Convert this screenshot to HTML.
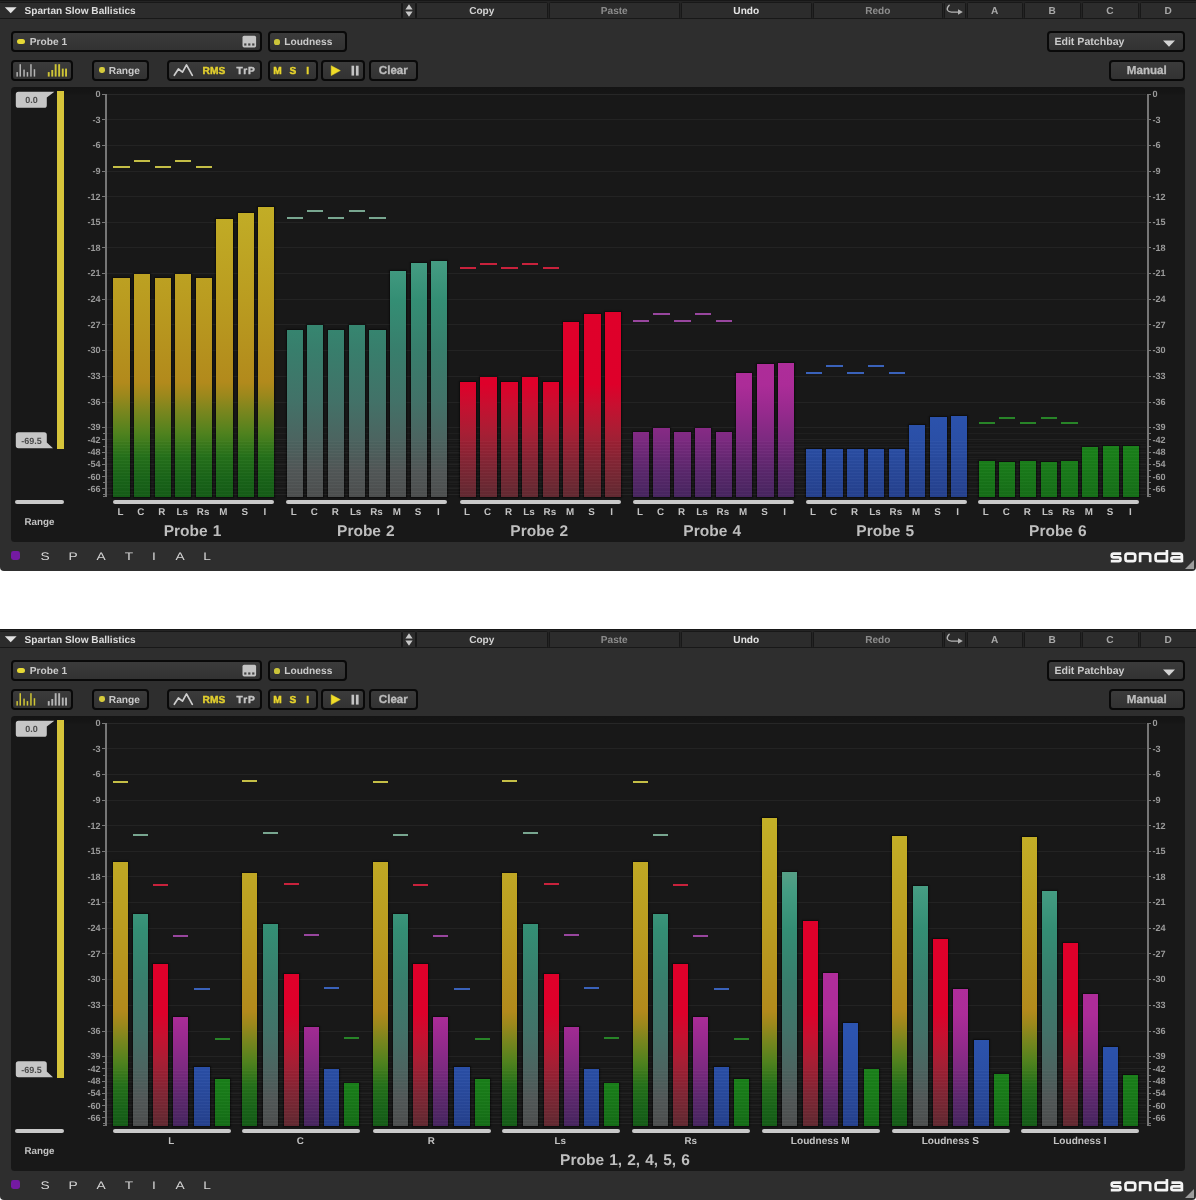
<!DOCTYPE html><html><head><meta charset="utf-8"><title>Sonda</title><style>
html,body{margin:0;padding:0;background:#fff}
body{text-rendering:geometricPrecision;width:1196px;height:1200px;position:relative;overflow:hidden;font-family:"Liberation Sans", sans-serif}
.plug{will-change:transform;position:absolute;left:0;width:1196px;height:571px;background:#2e2e2e;border-radius:0 0 4px 4px;overflow:hidden}
.plug *{position:absolute;box-sizing:border-box}
.tb{left:0;top:0;width:1196px;height:19.2px;background:#242424;border-top:1px solid #171717;border-bottom:1.2px solid #1a1a1a}
.sg{top:1.7px;height:16.9px;background:#2c2c2c;border:1.1px solid #181818;border-radius:1.5px}
.t{height:20px;line-height:20px;white-space:nowrap;font-weight:bold}
.tbt{}
.bx{background:linear-gradient(#3b3b3b,#323232);border:2.8px solid #090909;border-radius:4px}
.led{background:#e6d936}
.ct{color:#cacaca}
.ct2{-webkit-text-stroke:0.4px currentColor}
.pan{left:11px;top:86.8px;width:1173.6px;height:455px;background:linear-gradient(#141414,#161616 7px,#181818 8px);border-radius:3.5px}
.rng{left:57.4px;top:91.4px;width:6.2px;height:357.6px;background:#d6c43a}
.tg{color:#4a4a4a}
.ul{top:499.9px;height:3.7px;border-radius:2px;background:#c9c9c9}
.lb{color:#c2c2c2}
.pn{color:#bebebe;word-spacing:0.8px}
.gl{left:107px;width:1039px;height:1px;background:#232323}
.gl.m{background:#1f1f1f}
.ax{top:93.6px;width:2px;height:403.8px;background:#767676}
.tk{width:3px;height:1px;background:#787878}
.tk.s{width:2.2px}
.axl{color:#9a9a9a}
.b{box-shadow:0 0 1.2px 1px rgba(0,0,0,.5)}
.pk{height:2px}
.str{left:107px;top:441px;width:1039px;height:56px;background:repeating-linear-gradient(to bottom,rgba(255,255,255,0.022) 0,rgba(255,255,255,0.022) 1px,rgba(0,0,0,0.02) 1px,rgba(0,0,0,0.02) 3.1px)}
.sq{left:10.5px;top:551.3px;width:9px;height:9px;background:#741aa2;border-radius:2.4px}
.sp{font-weight:normal;color:#d6d6d6;transform:scaleX(1.25)}
.sn{font-weight:normal;color:#ececec;transform:scaleX(1.5);letter-spacing:0.5px}
.a{overflow:visible}
.w1,.w2{left:0;top:0;width:1196px;height:571px}

</style></head><body>
<div class="plug" style="top:0px">
<div class="w1">
<div class="tb"></div>
<div class="sg" style="left:-1.00px;width:402.50px"></div>
<div class="sg" style="left:402.00px;width:13.50px"></div>
<div class="sg" style="left:415.50px;width:132.50px"></div>
<div class="t tbt" style="left:381.75px;width:200px;text-align:center;top:2px;font-size:10.1px;color:#d2d2d2">Copy</div>
<div class="sg" style="left:549.00px;width:130.50px"></div>
<div class="t tbt" style="left:514.25px;width:200px;text-align:center;top:2px;font-size:10.1px;color:#8c8c8c">Paste</div>
<div class="sg" style="left:681.00px;width:130.50px"></div>
<div class="t tbt" style="left:646.25px;width:200px;text-align:center;top:2px;font-size:10.1px;color:#e4e4e4">Undo</div>
<div class="sg" style="left:812.50px;width:130.50px"></div>
<div class="t tbt" style="left:777.75px;width:200px;text-align:center;top:2px;font-size:10.1px;color:#8c8c8c">Redo</div>
<div class="sg" style="left:943.50px;width:22.00px"></div>
<div class="sg" style="left:966.50px;width:56.50px"></div>
<div class="t tbt" style="left:894.75px;width:200px;text-align:center;top:2px;font-size:10.1px;color:#a8a8a8">A</div>
<div class="sg" style="left:1024.00px;width:56.50px"></div>
<div class="t tbt" style="left:952.25px;width:200px;text-align:center;top:2px;font-size:10.1px;color:#a8a8a8">B</div>
<div class="sg" style="left:1081.50px;width:57.00px"></div>
<div class="t tbt" style="left:1010.00px;width:200px;text-align:center;top:2px;font-size:10.1px;color:#a8a8a8">C</div>
<div class="sg" style="left:1139.50px;width:57.50px"></div>
<div class="t tbt" style="left:1068.25px;width:200px;text-align:center;top:2px;font-size:10.1px;color:#a8a8a8">D</div>
<div class="t tbt" style="left:24.60px;text-align:left;top:2px;font-size:10.1px;color:#dcdcdc">Spartan Slow Ballistics</div>
<svg class="a" style="left:4px;top:6px" width="14" height="8" viewBox="0 0 14 8"><path d="M0.8 1.2 L12.6 1.2 L6.7 7.2 Z" fill="#e2e2e2"/></svg>
<svg class="a" style="left:404px;top:3px" width="10" height="15" viewBox="0 0 10 15"><path d="M5 1.2 L8.6 6.4 L1.4 6.4 Z M5 13.8 L8.6 8.6 L1.4 8.6 Z" fill="#c8c8c8"/></svg>
<svg class="a" style="left:0;top:0" width="1196" height="20" viewBox="0 0 1196 20"><path d="M949.2 5.2 Q946.4 8 947.5 10.3 Q948.5 12.1 951.4 12.1 H959.6" fill="none" stroke="#b2b2b2" stroke-width="1.3" stroke-linecap="round"/><path d="M958 9.2 L962.8 12.1 L958 14.8 Z" fill="#b2b2b2"/></svg>
<div class="bx " style="left:10.65px;top:30.65px;width:250.90px;height:21.70px"></div>
<div class="led" style="left:17px;top:38.9px;width:7.6px;height:5px;border-radius:2.5px"></div>
<div class="t ct" style="left:29.80px;text-align:left;top:33px;font-size:10.2px;">Probe 1</div>
<svg class="a" style="left:242px;top:35px" width="15" height="14" viewBox="0 0 15 14"><rect x="0.5" y="0.8" width="13.6" height="11.6" rx="1.6" fill="#c4c4c4"/><rect x="2.2" y="8.4" width="2.2" height="2.2" fill="#444"/><rect x="6.2" y="8.4" width="2.2" height="2.2" fill="#444"/><rect x="10.2" y="8.4" width="2.2" height="2.2" fill="#444"/></svg>
<div class="bx " style="left:267.65px;top:30.65px;width:78.90px;height:21.70px"></div>
<div class="led" style="left:273.8px;top:38.6px;width:6.4px;height:6.2px;border-radius:2.6px;background:#cbc43a"></div>
<div class="t ct" style="left:284.20px;text-align:left;top:33px;font-size:10.2px;">Loudness</div>
<div class="bx " style="left:1046.65px;top:30.65px;width:137.90px;height:21.70px"></div>
<div class="t ct" style="left:1054.40px;text-align:left;top:32px;font-size:10.6px;">Edit Patchbay</div>
<svg class="a" style="left:1162.4px;top:38.6px" width="14" height="9" viewBox="0 0 14 9"><path d="M1 1.4 L13 1.4 L7 7.8 Z" fill="#d4d4d4"/></svg>
<div class="bx " style="left:11.15px;top:59.65px;width:62.20px;height:21.30px"></div>
<svg class="a" style="left:15.3px;top:62px" width="56" height="16" viewBox="0 0 56 16"><rect x="1.4" y="10.1" width="1.5" height="4.5" fill="#b4b4b4"/><rect x="4.5" y="2.2" width="1.5" height="12.4" fill="#b4b4b4"/><rect x="8.3" y="7.6" width="1.5" height="7.0" fill="#b4b4b4"/><rect x="11.7" y="10.1" width="1.5" height="4.5" fill="#b4b4b4"/><rect x="15.2" y="2.2" width="1.5" height="12.4" fill="#b4b4b4"/><rect x="18.7" y="7.2" width="1.5" height="7.4" fill="#b4b4b4"/><rect x="32.8" y="10.1" width="1.9" height="4.5" fill="#cfc536"/><rect x="36.3" y="8.0" width="1.9" height="6.6" fill="#cfc536"/><rect x="39.7" y="2.2" width="1.9" height="12.4" fill="#cfc536"/><rect x="43.2" y="2.2" width="1.9" height="12.4" fill="#cfc536"/><rect x="46.8" y="6.6" width="1.9" height="8.0" fill="#cfc536"/><rect x="50.1" y="6.6" width="1.9" height="8.0" fill="#cfc536"/></svg>
<div class="bx " style="left:92.15px;top:59.65px;width:56.80px;height:21.30px"></div>
<div class="led" style="left:98.5px;top:67.2px;width:6.6px;height:6.2px;border-radius:2.4px;background:#d6cb3c"></div>
<div class="t ct" style="left:108.80px;text-align:left;top:62px;font-size:10.2px;">Range</div>
<div class="bx " style="left:167.15px;top:59.65px;width:94.40px;height:21.30px"></div>
<svg class="a" style="left:0;top:0" width="300" height="90" viewBox="0 0 300 90"><path d="M174.3 75.3 L178.4 69 L182.5 72.2 L186.5 64.9 L192.3 75.3" fill="none" stroke="#cecece" stroke-width="1.7" stroke-linejoin="round" stroke-linecap="round"/></svg>
<div class="t ct2" style="left:202.60px;text-align:left;top:62px;font-size:10.2px;color:#e2cf2e">RMS</div>
<div class="t ct2" style="left:236.60px;text-align:left;top:62px;font-size:10.2px;color:#c4c4c4;letter-spacing:0.9px">TrP</div>
<div class="bx " style="left:267.65px;top:59.65px;width:49.90px;height:21.30px"></div>
<div class="t ct2" style="left:177.40px;width:200px;text-align:center;top:62px;font-size:10.2px;color:#e8d52c">M</div>
<div class="t ct2" style="left:192.80px;width:200px;text-align:center;top:62px;font-size:10.2px;color:#e8d52c">S</div>
<div class="t ct2" style="left:207.60px;width:200px;text-align:center;top:62px;font-size:10.2px;color:#e8d52c">I</div>
<div class="bx " style="left:321.25px;top:59.65px;width:43.90px;height:21.30px"></div>
<svg class="a" style="left:329px;top:64px" width="32" height="13" viewBox="0 0 32 13"><path d="M2.2 1.7 L11.3 6.6 L2.2 11.6 Z" fill="#f0dc28" stroke="#f0dc28" stroke-width="0.5" stroke-linejoin="round"/><rect x="22.5" y="1.7" width="2.6" height="9.9" fill="#c4c4c4"/><rect x="26.9" y="1.7" width="2.7" height="9.9" fill="#c4c4c4"/></svg>
<div class="bx " style="left:368.65px;top:59.65px;width:49.30px;height:21.30px"></div>
<div class="t ct" style="left:293.30px;width:200px;text-align:center;top:61px;font-size:11.6px;color:#bdbdbd;-webkit-text-stroke:0.3px #bdbdbd">Clear</div>
<div class="bx " style="left:1109.15px;top:59.65px;width:75.40px;height:21.30px"></div>
<div class="t ct" style="left:1046.80px;width:200px;text-align:center;top:61px;font-size:11.6px;color:#bdbdbd;-webkit-text-stroke:0.3px #bdbdbd">Manual</div>
<div class="pan"></div>
<div class="rng"></div>
<svg class="a" style="left:15px;top:91px" width="40" height="18" viewBox="0 0 40 18"><path d="M3.4 0.8 L39.4 0.8 L31.8 6.4 L31.8 14.2 Q31.8 16.8 29.2 16.8 L3.4 16.8 Q0.8 16.8 0.8 14.2 L0.8 3.4 Q0.8 0.8 3.4 0.8 Z" fill="#c6c6c6"/></svg>
<div class="t tg" style="left:-68.60px;width:200px;text-align:center;top:90px;font-size:9px;">0.0</div>
<svg class="a" style="left:15px;top:431px" width="40" height="18" viewBox="0 0 40 18"><path d="M3.4 17.2 L38 17.2 L31.8 11.6 L31.8 3.8 Q31.8 1.2 29.2 1.2 L3.4 1.2 Q0.8 1.2 0.8 3.8 L0.8 14.6 Q0.8 17.2 3.4 17.2 Z" fill="#c6c6c6"/></svg>
<div class="t tg" style="left:-68.60px;width:200px;text-align:center;top:431px;font-size:9px;">-69.5</div>
<div class="ul" style="left:15.4px;width:48.6px"></div>
<div class="t lb" style="left:-60.60px;width:200px;text-align:center;top:513px;font-size:9.8px;">Range</div>
<div class="gl" style="top:93.80px;background:#272727"></div>
<div class="gl" style="top:119.40px"></div>
<div class="gl" style="top:145.00px"></div>
<div class="gl" style="top:170.60px"></div>
<div class="gl" style="top:196.20px"></div>
<div class="gl" style="top:221.80px"></div>
<div class="gl" style="top:247.40px"></div>
<div class="gl" style="top:273.00px"></div>
<div class="gl" style="top:298.60px"></div>
<div class="gl" style="top:324.20px"></div>
<div class="gl" style="top:349.80px"></div>
<div class="gl" style="top:375.70px"></div>
<div class="gl" style="top:401.50px"></div>
<div class="gl" style="top:426.80px"></div>
<div class="gl" style="top:439.40px"></div>
<div class="gl" style="top:451.80px"></div>
<div class="gl" style="top:463.90px"></div>
<div class="gl" style="top:476.10px"></div>
<div class="gl" style="top:488.30px"></div>
<div class="gl m" style="top:433.10px"></div>
<div class="gl m" style="top:445.60px"></div>
<div class="gl m" style="top:457.90px"></div>
<div class="gl m" style="top:470.00px"></div>
<div class="gl m" style="top:482.20px"></div>
<div class="gl m" style="top:493.50px"></div>
<div class="ax" style="left:104.6px"></div><div class="ax" style="left:1146.5px"></div>
<div class="tk" style="left:101.8px;top:93.80px"></div><div class="tk" style="left:1148.4px;top:93.80px"></div>
<div class="t axl" style="left:70.60px;width:30px;text-align:right;top:84px;font-size:9.1px;">0</div>
<div class="t axl" style="left:1152.50px;text-align:left;top:84px;font-size:9.1px;">0</div>
<div class="tk" style="left:101.8px;top:119.40px"></div><div class="tk" style="left:1148.4px;top:119.40px"></div>
<div class="t axl" style="left:70.60px;width:30px;text-align:right;top:110px;font-size:9.1px;">-3</div>
<div class="t axl" style="left:1152.50px;text-align:left;top:110px;font-size:9.1px;">-3</div>
<div class="tk" style="left:101.8px;top:145.00px"></div><div class="tk" style="left:1148.4px;top:145.00px"></div>
<div class="t axl" style="left:70.60px;width:30px;text-align:right;top:135px;font-size:9.1px;">-6</div>
<div class="t axl" style="left:1152.50px;text-align:left;top:135px;font-size:9.1px;">-6</div>
<div class="tk" style="left:101.8px;top:170.60px"></div><div class="tk" style="left:1148.4px;top:170.60px"></div>
<div class="t axl" style="left:70.60px;width:30px;text-align:right;top:161px;font-size:9.1px;">-9</div>
<div class="t axl" style="left:1152.50px;text-align:left;top:161px;font-size:9.1px;">-9</div>
<div class="tk" style="left:101.8px;top:196.20px"></div><div class="tk" style="left:1148.4px;top:196.20px"></div>
<div class="t axl" style="left:70.60px;width:30px;text-align:right;top:187px;font-size:9.1px;">-12</div>
<div class="t axl" style="left:1152.50px;text-align:left;top:187px;font-size:9.1px;">-12</div>
<div class="tk" style="left:101.8px;top:221.80px"></div><div class="tk" style="left:1148.4px;top:221.80px"></div>
<div class="t axl" style="left:70.60px;width:30px;text-align:right;top:212px;font-size:9.1px;">-15</div>
<div class="t axl" style="left:1152.50px;text-align:left;top:212px;font-size:9.1px;">-15</div>
<div class="tk" style="left:101.8px;top:247.40px"></div><div class="tk" style="left:1148.4px;top:247.40px"></div>
<div class="t axl" style="left:70.60px;width:30px;text-align:right;top:238px;font-size:9.1px;">-18</div>
<div class="t axl" style="left:1152.50px;text-align:left;top:238px;font-size:9.1px;">-18</div>
<div class="tk" style="left:101.8px;top:273.00px"></div><div class="tk" style="left:1148.4px;top:273.00px"></div>
<div class="t axl" style="left:70.60px;width:30px;text-align:right;top:263px;font-size:9.1px;">-21</div>
<div class="t axl" style="left:1152.50px;text-align:left;top:263px;font-size:9.1px;">-21</div>
<div class="tk" style="left:101.8px;top:298.60px"></div><div class="tk" style="left:1148.4px;top:298.60px"></div>
<div class="t axl" style="left:70.60px;width:30px;text-align:right;top:289px;font-size:9.1px;">-24</div>
<div class="t axl" style="left:1152.50px;text-align:left;top:289px;font-size:9.1px;">-24</div>
<div class="tk" style="left:101.8px;top:324.20px"></div><div class="tk" style="left:1148.4px;top:324.20px"></div>
<div class="t axl" style="left:70.60px;width:30px;text-align:right;top:315px;font-size:9.1px;">-27</div>
<div class="t axl" style="left:1152.50px;text-align:left;top:315px;font-size:9.1px;">-27</div>
<div class="tk" style="left:101.8px;top:349.80px"></div><div class="tk" style="left:1148.4px;top:349.80px"></div>
<div class="t axl" style="left:70.60px;width:30px;text-align:right;top:340px;font-size:9.1px;">-30</div>
<div class="t axl" style="left:1152.50px;text-align:left;top:340px;font-size:9.1px;">-30</div>
<div class="tk" style="left:101.8px;top:375.70px"></div><div class="tk" style="left:1148.4px;top:375.70px"></div>
<div class="t axl" style="left:70.60px;width:30px;text-align:right;top:366px;font-size:9.1px;">-33</div>
<div class="t axl" style="left:1152.50px;text-align:left;top:366px;font-size:9.1px;">-33</div>
<div class="tk" style="left:101.8px;top:401.50px"></div><div class="tk" style="left:1148.4px;top:401.50px"></div>
<div class="t axl" style="left:70.60px;width:30px;text-align:right;top:392px;font-size:9.1px;">-36</div>
<div class="t axl" style="left:1152.50px;text-align:left;top:392px;font-size:9.1px;">-36</div>
<div class="tk" style="left:101.8px;top:426.80px"></div><div class="tk" style="left:1148.4px;top:426.80px"></div>
<div class="t axl" style="left:70.60px;width:30px;text-align:right;top:417px;font-size:9.1px;">-39</div>
<div class="t axl" style="left:1152.50px;text-align:left;top:417px;font-size:9.1px;">-39</div>
<div class="tk" style="left:101.8px;top:439.40px"></div><div class="tk" style="left:1148.4px;top:439.40px"></div>
<div class="t axl" style="left:70.60px;width:30px;text-align:right;top:430px;font-size:9.1px;">-42</div>
<div class="t axl" style="left:1152.50px;text-align:left;top:430px;font-size:9.1px;">-42</div>
<div class="tk" style="left:101.8px;top:451.80px"></div><div class="tk" style="left:1148.4px;top:451.80px"></div>
<div class="t axl" style="left:70.60px;width:30px;text-align:right;top:442px;font-size:9.1px;">-48</div>
<div class="t axl" style="left:1152.50px;text-align:left;top:442px;font-size:9.1px;">-48</div>
<div class="tk" style="left:101.8px;top:463.90px"></div><div class="tk" style="left:1148.4px;top:463.90px"></div>
<div class="t axl" style="left:70.60px;width:30px;text-align:right;top:454px;font-size:9.1px;">-54</div>
<div class="t axl" style="left:1152.50px;text-align:left;top:454px;font-size:9.1px;">-54</div>
<div class="tk" style="left:101.8px;top:476.10px"></div><div class="tk" style="left:1148.4px;top:476.10px"></div>
<div class="t axl" style="left:70.60px;width:30px;text-align:right;top:467px;font-size:9.1px;">-60</div>
<div class="t axl" style="left:1152.50px;text-align:left;top:467px;font-size:9.1px;">-60</div>
<div class="tk" style="left:101.8px;top:488.30px"></div><div class="tk" style="left:1148.4px;top:488.30px"></div>
<div class="t axl" style="left:70.60px;width:30px;text-align:right;top:479px;font-size:9.1px;">-66</div>
<div class="t axl" style="left:1152.50px;text-align:left;top:479px;font-size:9.1px;">-66</div>
<div class="tk s" style="left:102.6px;top:433.10px"></div><div class="tk s" style="left:1148.4px;top:433.10px"></div>
<div class="tk s" style="left:102.6px;top:445.60px"></div><div class="tk s" style="left:1148.4px;top:445.60px"></div>
<div class="tk s" style="left:102.6px;top:457.90px"></div><div class="tk s" style="left:1148.4px;top:457.90px"></div>
<div class="tk s" style="left:102.6px;top:470.00px"></div><div class="tk s" style="left:1148.4px;top:470.00px"></div>
<div class="tk s" style="left:102.6px;top:482.20px"></div><div class="tk s" style="left:1148.4px;top:482.20px"></div>
<div class="tk s" style="left:102.6px;top:493.50px"></div><div class="tk s" style="left:1148.4px;top:493.50px"></div>
<div class="tk s" style="left:102.6px;top:496.30px"></div><div class="tk s" style="left:1148.4px;top:496.30px"></div>
</div>
<div class="b" style="left:113.30px;top:277.50px;width:16.25px;height:219.50px;background:linear-gradient(to bottom,rgb(188,160,34) 0.0%,rgb(186,156,32) 10.3%,rgb(178,138,28) 47.6%,rgb(156,136,28) 53.5%,rgb(122,134,30) 60.8%,rgb(80,130,30) 70.8%,rgb(38,114,27) 81.3%,rgb(25,100,25) 92.3%,rgb(22,92,24) 100.0%)"></div>
<div class="b" style="left:133.70px;top:274.00px;width:16.25px;height:223.00px;background:linear-gradient(to bottom,rgb(188,161,34) 0.0%,rgb(186,156,32) 11.7%,rgb(178,138,28) 48.4%,rgb(156,136,28) 54.3%,rgb(122,134,30) 61.4%,rgb(80,130,30) 71.3%,rgb(38,114,27) 81.6%,rgb(25,100,25) 92.4%,rgb(22,92,24) 100.0%)"></div>
<div class="b" style="left:154.70px;top:277.50px;width:16.25px;height:219.50px;background:linear-gradient(to bottom,rgb(188,160,34) 0.0%,rgb(186,156,32) 10.3%,rgb(178,138,28) 47.6%,rgb(156,136,28) 53.5%,rgb(122,134,30) 60.8%,rgb(80,130,30) 70.8%,rgb(38,114,27) 81.3%,rgb(25,100,25) 92.3%,rgb(22,92,24) 100.0%)"></div>
<div class="b" style="left:175.10px;top:274.00px;width:16.25px;height:223.00px;background:linear-gradient(to bottom,rgb(188,161,34) 0.0%,rgb(186,156,32) 11.7%,rgb(178,138,28) 48.4%,rgb(156,136,28) 54.3%,rgb(122,134,30) 61.4%,rgb(80,130,30) 71.3%,rgb(38,114,27) 81.6%,rgb(25,100,25) 92.4%,rgb(22,92,24) 100.0%)"></div>
<div class="b" style="left:196.00px;top:277.50px;width:16.25px;height:219.50px;background:linear-gradient(to bottom,rgb(188,160,34) 0.0%,rgb(186,156,32) 10.3%,rgb(178,138,28) 47.6%,rgb(156,136,28) 53.5%,rgb(122,134,30) 60.8%,rgb(80,130,30) 70.8%,rgb(38,114,27) 81.3%,rgb(25,100,25) 92.3%,rgb(22,92,24) 100.0%)"></div>
<div class="b" style="left:216.30px;top:219.40px;width:16.25px;height:277.60px;background:linear-gradient(to bottom,rgb(193,171,37) 0.0%,rgb(186,156,32) 29.0%,rgb(178,138,28) 58.6%,rgb(156,136,28) 63.3%,rgb(122,134,30) 69.0%,rgb(80,130,30) 76.9%,rgb(38,114,27) 85.2%,rgb(25,100,25) 93.9%,rgb(22,92,24) 100.0%)"></div>
<div class="b" style="left:237.60px;top:212.50px;width:16.25px;height:284.50px;background:linear-gradient(to bottom,rgb(193,172,38) 0.0%,rgb(186,156,32) 30.8%,rgb(178,138,28) 59.6%,rgb(156,136,28) 64.1%,rgb(122,134,30) 69.8%,rgb(80,130,30) 77.5%,rgb(38,114,27) 85.6%,rgb(25,100,25) 94.0%,rgb(22,92,24) 100.0%)"></div>
<div class="b" style="left:257.80px;top:207.00px;width:16.25px;height:290.00px;background:linear-gradient(to bottom,rgb(194,173,38) 0.0%,rgb(186,156,32) 32.1%,rgb(178,138,28) 60.3%,rgb(156,136,28) 64.8%,rgb(122,134,30) 70.3%,rgb(80,130,30) 77.9%,rgb(38,114,27) 85.9%,rgb(25,100,25) 94.1%,rgb(22,92,24) 100.0%)"></div>
<div class="pk" style="left:113.30px;top:165.60px;width:16.25px;background:#c4be46"></div>
<div class="pk" style="left:133.70px;top:159.80px;width:16.25px;background:#c4be46"></div>
<div class="pk" style="left:154.70px;top:165.60px;width:16.25px;background:#c4be46"></div>
<div class="pk" style="left:175.10px;top:159.80px;width:16.25px;background:#c4be46"></div>
<div class="pk" style="left:196.00px;top:165.60px;width:16.25px;background:#c4be46"></div>
<div class="ul" style="left:112.90px;width:161.20px"></div>
<div class="t lb" style="left:20.42px;width:200px;text-align:center;top:503px;font-size:9.8px;">L</div>
<div class="t lb" style="left:40.82px;width:200px;text-align:center;top:503px;font-size:9.8px;">C</div>
<div class="t lb" style="left:61.82px;width:200px;text-align:center;top:503px;font-size:9.8px;">R</div>
<div class="t lb" style="left:82.22px;width:200px;text-align:center;top:503px;font-size:9.8px;">Ls</div>
<div class="t lb" style="left:103.12px;width:200px;text-align:center;top:503px;font-size:9.8px;">Rs</div>
<div class="t lb" style="left:123.43px;width:200px;text-align:center;top:503px;font-size:9.8px;">M</div>
<div class="t lb" style="left:144.72px;width:200px;text-align:center;top:503px;font-size:9.8px;">S</div>
<div class="t lb" style="left:164.93px;width:200px;text-align:center;top:503px;font-size:9.8px;">I</div>
<div class="t pn" style="left:92.50px;width:200px;text-align:center;top:522px;font-size:15.5px;">Probe 1</div>
<div class="b" style="left:286.70px;top:330.00px;width:16.25px;height:167.00px;background:linear-gradient(to bottom,rgb(54,132,111) 0.0%,rgb(56,126,108) 12.0%,rgb(66,114,104) 41.9%,rgb(76,100,96) 65.9%,rgb(82,88,88) 83.8%,rgb(78,80,80) 100.0%)"></div>
<div class="b" style="left:307.10px;top:325.30px;width:16.25px;height:171.70px;background:linear-gradient(to bottom,rgb(54,134,112) 0.0%,rgb(56,126,108) 14.4%,rgb(66,114,104) 43.5%,rgb(76,100,96) 66.8%,rgb(82,88,88) 84.3%,rgb(78,80,80) 100.0%)"></div>
<div class="b" style="left:328.10px;top:330.00px;width:16.25px;height:167.00px;background:linear-gradient(to bottom,rgb(54,132,111) 0.0%,rgb(56,126,108) 12.0%,rgb(66,114,104) 41.9%,rgb(76,100,96) 65.9%,rgb(82,88,88) 83.8%,rgb(78,80,80) 100.0%)"></div>
<div class="b" style="left:348.50px;top:325.30px;width:16.25px;height:171.70px;background:linear-gradient(to bottom,rgb(54,134,112) 0.0%,rgb(56,126,108) 14.4%,rgb(66,114,104) 43.5%,rgb(76,100,96) 66.8%,rgb(82,88,88) 84.3%,rgb(78,80,80) 100.0%)"></div>
<div class="b" style="left:369.40px;top:330.00px;width:16.25px;height:167.00px;background:linear-gradient(to bottom,rgb(54,132,111) 0.0%,rgb(56,126,108) 12.0%,rgb(66,114,104) 41.9%,rgb(76,100,96) 65.9%,rgb(82,88,88) 83.8%,rgb(78,80,80) 100.0%)"></div>
<div class="b" style="left:389.70px;top:270.80px;width:16.25px;height:226.20px;background:linear-gradient(to bottom,rgb(64,153,127) 0.0%,rgb(52,142,116) 12.9%,rgb(56,126,108) 35.0%,rgb(66,114,104) 57.1%,rgb(76,100,96) 74.8%,rgb(82,88,88) 88.1%,rgb(78,80,80) 100.0%)"></div>
<div class="b" style="left:411.00px;top:263.00px;width:16.25px;height:234.00px;background:linear-gradient(to bottom,rgb(68,156,130) 0.0%,rgb(52,142,116) 15.8%,rgb(56,126,108) 37.2%,rgb(66,114,104) 58.5%,rgb(76,100,96) 75.6%,rgb(82,88,88) 88.5%,rgb(78,80,80) 100.0%)"></div>
<div class="b" style="left:431.20px;top:260.60px;width:16.25px;height:236.40px;background:linear-gradient(to bottom,rgb(69,156,130) 0.0%,rgb(68,156,130) 0.6%,rgb(52,142,116) 16.7%,rgb(56,126,108) 37.8%,rgb(66,114,104) 59.0%,rgb(76,100,96) 75.9%,rgb(82,88,88) 88.6%,rgb(78,80,80) 100.0%)"></div>
<div class="pk" style="left:286.70px;top:216.80px;width:16.25px;background:#78a690"></div>
<div class="pk" style="left:307.10px;top:210.10px;width:16.25px;background:#78a690"></div>
<div class="pk" style="left:328.10px;top:216.80px;width:16.25px;background:#78a690"></div>
<div class="pk" style="left:348.50px;top:210.10px;width:16.25px;background:#78a690"></div>
<div class="pk" style="left:369.40px;top:216.80px;width:16.25px;background:#78a690"></div>
<div class="ul" style="left:286.30px;width:161.20px"></div>
<div class="t lb" style="left:193.82px;width:200px;text-align:center;top:503px;font-size:9.8px;">L</div>
<div class="t lb" style="left:214.22px;width:200px;text-align:center;top:503px;font-size:9.8px;">C</div>
<div class="t lb" style="left:235.22px;width:200px;text-align:center;top:503px;font-size:9.8px;">R</div>
<div class="t lb" style="left:255.62px;width:200px;text-align:center;top:503px;font-size:9.8px;">Ls</div>
<div class="t lb" style="left:276.52px;width:200px;text-align:center;top:503px;font-size:9.8px;">Rs</div>
<div class="t lb" style="left:296.82px;width:200px;text-align:center;top:503px;font-size:9.8px;">M</div>
<div class="t lb" style="left:318.12px;width:200px;text-align:center;top:503px;font-size:9.8px;">S</div>
<div class="t lb" style="left:338.32px;width:200px;text-align:center;top:503px;font-size:9.8px;">I</div>
<div class="t pn" style="left:265.90px;width:200px;text-align:center;top:522px;font-size:15.5px;">Probe 2</div>
<div class="b" style="left:460.00px;top:381.80px;width:16.25px;height:115.20px;background:linear-gradient(to bottom,rgb(222,0,42) 0.0%,rgb(222,0,42) 1.9%,rgb(198,16,48) 21.0%,rgb(168,30,52) 43.6%,rgb(132,38,54) 69.6%,rgb(98,42,50) 100.0%)"></div>
<div class="b" style="left:480.40px;top:377.00px;width:16.25px;height:120.00px;background:linear-gradient(to bottom,rgb(222,0,42) 0.0%,rgb(222,0,42) 5.8%,rgb(198,16,48) 24.2%,rgb(168,30,52) 45.8%,rgb(132,38,54) 70.8%,rgb(98,42,50) 100.0%)"></div>
<div class="b" style="left:501.40px;top:381.80px;width:16.25px;height:115.20px;background:linear-gradient(to bottom,rgb(222,0,42) 0.0%,rgb(222,0,42) 1.9%,rgb(198,16,48) 21.0%,rgb(168,30,52) 43.6%,rgb(132,38,54) 69.6%,rgb(98,42,50) 100.0%)"></div>
<div class="b" style="left:521.80px;top:377.00px;width:16.25px;height:120.00px;background:linear-gradient(to bottom,rgb(222,0,42) 0.0%,rgb(222,0,42) 5.8%,rgb(198,16,48) 24.2%,rgb(168,30,52) 45.8%,rgb(132,38,54) 70.8%,rgb(98,42,50) 100.0%)"></div>
<div class="b" style="left:542.70px;top:381.80px;width:16.25px;height:115.20px;background:linear-gradient(to bottom,rgb(222,0,42) 0.0%,rgb(222,0,42) 1.9%,rgb(198,16,48) 21.0%,rgb(168,30,52) 43.6%,rgb(132,38,54) 69.6%,rgb(98,42,50) 100.0%)"></div>
<div class="b" style="left:563.00px;top:322.30px;width:16.25px;height:174.70px;background:linear-gradient(to bottom,rgb(223,0,42) 0.0%,rgb(222,0,42) 35.3%,rgb(198,16,48) 47.9%,rgb(168,30,52) 62.8%,rgb(132,38,54) 80.0%,rgb(98,42,50) 100.0%)"></div>
<div class="b" style="left:584.30px;top:314.00px;width:16.25px;height:183.00px;background:linear-gradient(to bottom,rgb(223,0,42) 0.0%,rgb(222,0,42) 38.3%,rgb(198,16,48) 50.3%,rgb(168,30,52) 64.5%,rgb(132,38,54) 80.9%,rgb(98,42,50) 100.0%)"></div>
<div class="b" style="left:604.50px;top:312.00px;width:16.25px;height:185.00px;background:linear-gradient(to bottom,rgb(223,0,42) 0.0%,rgb(222,0,42) 38.9%,rgb(198,16,48) 50.8%,rgb(168,30,52) 64.9%,rgb(132,38,54) 81.1%,rgb(98,42,50) 100.0%)"></div>
<div class="pk" style="left:460.00px;top:267.30px;width:16.25px;background:#c8223c"></div>
<div class="pk" style="left:480.40px;top:262.60px;width:16.25px;background:#c8223c"></div>
<div class="pk" style="left:501.40px;top:267.30px;width:16.25px;background:#c8223c"></div>
<div class="pk" style="left:521.80px;top:262.60px;width:16.25px;background:#c8223c"></div>
<div class="pk" style="left:542.70px;top:267.30px;width:16.25px;background:#c8223c"></div>
<div class="ul" style="left:459.60px;width:161.20px"></div>
<div class="t lb" style="left:367.12px;width:200px;text-align:center;top:503px;font-size:9.8px;">L</div>
<div class="t lb" style="left:387.52px;width:200px;text-align:center;top:503px;font-size:9.8px;">C</div>
<div class="t lb" style="left:408.52px;width:200px;text-align:center;top:503px;font-size:9.8px;">R</div>
<div class="t lb" style="left:428.92px;width:200px;text-align:center;top:503px;font-size:9.8px;">Ls</div>
<div class="t lb" style="left:449.83px;width:200px;text-align:center;top:503px;font-size:9.8px;">Rs</div>
<div class="t lb" style="left:470.12px;width:200px;text-align:center;top:503px;font-size:9.8px;">M</div>
<div class="t lb" style="left:491.42px;width:200px;text-align:center;top:503px;font-size:9.8px;">S</div>
<div class="t lb" style="left:511.62px;width:200px;text-align:center;top:503px;font-size:9.8px;">I</div>
<div class="t pn" style="left:439.20px;width:200px;text-align:center;top:522px;font-size:15.5px;">Probe 2</div>
<div class="b" style="left:633.00px;top:432.00px;width:16.25px;height:65.00px;background:linear-gradient(to bottom,rgb(131,42,132) 0.0%,rgb(124,42,128) 12.3%,rgb(92,40,110) 58.5%,rgb(72,38,96) 100.0%)"></div>
<div class="b" style="left:653.40px;top:428.30px;width:16.25px;height:68.70px;background:linear-gradient(to bottom,rgb(135,42,133) 0.0%,rgb(124,42,128) 17.0%,rgb(92,40,110) 60.7%,rgb(72,38,96) 100.0%)"></div>
<div class="b" style="left:674.40px;top:432.00px;width:16.25px;height:65.00px;background:linear-gradient(to bottom,rgb(131,42,132) 0.0%,rgb(124,42,128) 12.3%,rgb(92,40,110) 58.5%,rgb(72,38,96) 100.0%)"></div>
<div class="b" style="left:694.80px;top:428.30px;width:16.25px;height:68.70px;background:linear-gradient(to bottom,rgb(135,42,133) 0.0%,rgb(124,42,128) 17.0%,rgb(92,40,110) 60.7%,rgb(72,38,96) 100.0%)"></div>
<div class="b" style="left:715.70px;top:432.00px;width:16.25px;height:65.00px;background:linear-gradient(to bottom,rgb(131,42,132) 0.0%,rgb(124,42,128) 12.3%,rgb(92,40,110) 58.5%,rgb(72,38,96) 100.0%)"></div>
<div class="b" style="left:736.00px;top:372.50px;width:16.25px;height:124.50px;background:linear-gradient(to bottom,rgb(173,44,153) 0.0%,rgb(172,44,152) 10.0%,rgb(152,42,142) 30.1%,rgb(124,42,128) 54.2%,rgb(92,40,110) 78.3%,rgb(72,38,96) 100.0%)"></div>
<div class="b" style="left:757.30px;top:364.30px;width:16.25px;height:132.70px;background:linear-gradient(to bottom,rgb(174,44,153) 0.0%,rgb(172,44,152) 15.6%,rgb(152,42,142) 34.4%,rgb(124,42,128) 57.0%,rgb(92,40,110) 79.7%,rgb(72,38,96) 100.0%)"></div>
<div class="b" style="left:777.50px;top:363.30px;width:16.25px;height:133.70px;background:linear-gradient(to bottom,rgb(174,45,154) 0.0%,rgb(172,44,152) 16.2%,rgb(152,42,142) 34.9%,rgb(124,42,128) 57.4%,rgb(92,40,110) 79.8%,rgb(72,38,96) 100.0%)"></div>
<div class="pk" style="left:633.00px;top:319.80px;width:16.25px;background:#98469e"></div>
<div class="pk" style="left:653.40px;top:312.80px;width:16.25px;background:#98469e"></div>
<div class="pk" style="left:674.40px;top:319.80px;width:16.25px;background:#98469e"></div>
<div class="pk" style="left:694.80px;top:312.80px;width:16.25px;background:#98469e"></div>
<div class="pk" style="left:715.70px;top:319.80px;width:16.25px;background:#98469e"></div>
<div class="ul" style="left:632.60px;width:161.20px"></div>
<div class="t lb" style="left:540.12px;width:200px;text-align:center;top:503px;font-size:9.8px;">L</div>
<div class="t lb" style="left:560.52px;width:200px;text-align:center;top:503px;font-size:9.8px;">C</div>
<div class="t lb" style="left:581.52px;width:200px;text-align:center;top:503px;font-size:9.8px;">R</div>
<div class="t lb" style="left:601.92px;width:200px;text-align:center;top:503px;font-size:9.8px;">Ls</div>
<div class="t lb" style="left:622.83px;width:200px;text-align:center;top:503px;font-size:9.8px;">Rs</div>
<div class="t lb" style="left:643.12px;width:200px;text-align:center;top:503px;font-size:9.8px;">M</div>
<div class="t lb" style="left:664.42px;width:200px;text-align:center;top:503px;font-size:9.8px;">S</div>
<div class="t lb" style="left:684.62px;width:200px;text-align:center;top:503px;font-size:9.8px;">I</div>
<div class="t pn" style="left:612.20px;width:200px;text-align:center;top:522px;font-size:15.5px;">Probe 4</div>
<div class="b" style="left:806.00px;top:449.30px;width:16.25px;height:47.70px;background:linear-gradient(to bottom,rgb(42,78,164) 0.0%,rgb(42,78,164) 1.5%,rgb(38,66,142) 100.0%)"></div>
<div class="b" style="left:826.40px;top:449.30px;width:16.25px;height:47.70px;background:linear-gradient(to bottom,rgb(42,78,164) 0.0%,rgb(42,78,164) 1.5%,rgb(38,66,142) 100.0%)"></div>
<div class="b" style="left:847.40px;top:449.30px;width:16.25px;height:47.70px;background:linear-gradient(to bottom,rgb(42,78,164) 0.0%,rgb(42,78,164) 1.5%,rgb(38,66,142) 100.0%)"></div>
<div class="b" style="left:867.80px;top:449.30px;width:16.25px;height:47.70px;background:linear-gradient(to bottom,rgb(42,78,164) 0.0%,rgb(42,78,164) 1.5%,rgb(38,66,142) 100.0%)"></div>
<div class="b" style="left:888.70px;top:449.30px;width:16.25px;height:47.70px;background:linear-gradient(to bottom,rgb(42,78,164) 0.0%,rgb(42,78,164) 1.5%,rgb(38,66,142) 100.0%)"></div>
<div class="b" style="left:909.00px;top:425.00px;width:16.25px;height:72.00px;background:linear-gradient(to bottom,rgb(43,81,170) 0.0%,rgb(42,78,164) 34.7%,rgb(38,66,142) 100.0%)"></div>
<div class="b" style="left:930.30px;top:417.00px;width:16.25px;height:80.00px;background:linear-gradient(to bottom,rgb(43,82,172) 0.0%,rgb(42,78,164) 41.2%,rgb(38,66,142) 100.0%)"></div>
<div class="b" style="left:950.50px;top:416.00px;width:16.25px;height:81.00px;background:linear-gradient(to bottom,rgb(43,82,172) 0.0%,rgb(42,78,164) 42.0%,rgb(38,66,142) 100.0%)"></div>
<div class="pk" style="left:806.00px;top:371.90px;width:16.25px;background:#3a62ba"></div>
<div class="pk" style="left:826.40px;top:364.90px;width:16.25px;background:#3a62ba"></div>
<div class="pk" style="left:847.40px;top:371.90px;width:16.25px;background:#3a62ba"></div>
<div class="pk" style="left:867.80px;top:364.90px;width:16.25px;background:#3a62ba"></div>
<div class="pk" style="left:888.70px;top:371.90px;width:16.25px;background:#3a62ba"></div>
<div class="ul" style="left:805.60px;width:161.20px"></div>
<div class="t lb" style="left:713.12px;width:200px;text-align:center;top:503px;font-size:9.8px;">L</div>
<div class="t lb" style="left:733.52px;width:200px;text-align:center;top:503px;font-size:9.8px;">C</div>
<div class="t lb" style="left:754.52px;width:200px;text-align:center;top:503px;font-size:9.8px;">R</div>
<div class="t lb" style="left:774.92px;width:200px;text-align:center;top:503px;font-size:9.8px;">Ls</div>
<div class="t lb" style="left:795.83px;width:200px;text-align:center;top:503px;font-size:9.8px;">Rs</div>
<div class="t lb" style="left:816.12px;width:200px;text-align:center;top:503px;font-size:9.8px;">M</div>
<div class="t lb" style="left:837.42px;width:200px;text-align:center;top:503px;font-size:9.8px;">S</div>
<div class="t lb" style="left:857.62px;width:200px;text-align:center;top:503px;font-size:9.8px;">I</div>
<div class="t pn" style="left:785.20px;width:200px;text-align:center;top:522px;font-size:15.5px;">Probe 5</div>
<div class="b" style="left:978.70px;top:460.50px;width:16.25px;height:36.50px;background:linear-gradient(to bottom,rgb(26,126,26) 0.0%,rgb(22,110,24) 100.0%)"></div>
<div class="b" style="left:999.10px;top:461.90px;width:16.25px;height:35.10px;background:linear-gradient(to bottom,rgb(26,125,26) 0.0%,rgb(22,110,24) 100.0%)"></div>
<div class="b" style="left:1020.10px;top:460.50px;width:16.25px;height:36.50px;background:linear-gradient(to bottom,rgb(26,126,26) 0.0%,rgb(22,110,24) 100.0%)"></div>
<div class="b" style="left:1040.50px;top:461.90px;width:16.25px;height:35.10px;background:linear-gradient(to bottom,rgb(26,125,26) 0.0%,rgb(22,110,24) 100.0%)"></div>
<div class="b" style="left:1061.40px;top:460.50px;width:16.25px;height:36.50px;background:linear-gradient(to bottom,rgb(26,126,26) 0.0%,rgb(22,110,24) 100.0%)"></div>
<div class="b" style="left:1081.70px;top:446.80px;width:16.25px;height:50.20px;background:linear-gradient(to bottom,rgb(26,128,26) 0.0%,rgb(26,126,26) 26.3%,rgb(22,110,24) 100.0%)"></div>
<div class="b" style="left:1103.00px;top:446.00px;width:16.25px;height:51.00px;background:linear-gradient(to bottom,rgb(26,128,26) 0.0%,rgb(26,126,26) 27.5%,rgb(22,110,24) 100.0%)"></div>
<div class="b" style="left:1123.20px;top:445.50px;width:16.25px;height:51.50px;background:linear-gradient(to bottom,rgb(26,128,26) 0.0%,rgb(26,126,26) 28.2%,rgb(22,110,24) 100.0%)"></div>
<div class="pk" style="left:978.70px;top:421.80px;width:16.25px;background:#288428"></div>
<div class="pk" style="left:999.10px;top:417.20px;width:16.25px;background:#288428"></div>
<div class="pk" style="left:1020.10px;top:421.80px;width:16.25px;background:#288428"></div>
<div class="pk" style="left:1040.50px;top:417.20px;width:16.25px;background:#288428"></div>
<div class="pk" style="left:1061.40px;top:421.80px;width:16.25px;background:#288428"></div>
<div class="ul" style="left:978.30px;width:161.20px"></div>
<div class="t lb" style="left:885.83px;width:200px;text-align:center;top:503px;font-size:9.8px;">L</div>
<div class="t lb" style="left:906.23px;width:200px;text-align:center;top:503px;font-size:9.8px;">C</div>
<div class="t lb" style="left:927.22px;width:200px;text-align:center;top:503px;font-size:9.8px;">R</div>
<div class="t lb" style="left:947.62px;width:200px;text-align:center;top:503px;font-size:9.8px;">Ls</div>
<div class="t lb" style="left:968.53px;width:200px;text-align:center;top:503px;font-size:9.8px;">Rs</div>
<div class="t lb" style="left:988.83px;width:200px;text-align:center;top:503px;font-size:9.8px;">M</div>
<div class="t lb" style="left:1010.12px;width:200px;text-align:center;top:503px;font-size:9.8px;">S</div>
<div class="t lb" style="left:1030.33px;width:200px;text-align:center;top:503px;font-size:9.8px;">I</div>
<div class="t pn" style="left:957.90px;width:200px;text-align:center;top:522px;font-size:15.5px;">Probe 6</div>
<div class="w1">
<div class="str"></div>
<div class="sq"></div>
<div class="t sp" style="left:-54.80px;width:200px;text-align:center;top:547px;font-size:11px;">S</div>
<div class="t sp" style="left:-26.80px;width:200px;text-align:center;top:547px;font-size:11px;">P</div>
<div class="t sp" style="left:1.20px;width:200px;text-align:center;top:547px;font-size:11px;">A</div>
<div class="t sp" style="left:29.20px;width:200px;text-align:center;top:547px;font-size:11px;">T</div>
<div class="t sp" style="left:54.20px;width:200px;text-align:center;top:547px;font-size:11px;">I</div>
<div class="t sp" style="left:79.60px;width:200px;text-align:center;top:547px;font-size:11px;">A</div>
<div class="t sp" style="left:107.40px;width:200px;text-align:center;top:547px;font-size:11px;">L</div>
<svg class="a" style="left:0;top:0" width="1196" height="571" viewBox="0 0 1196 571"><g fill="none" stroke="#f4f4f4" stroke-width="2.7" stroke-linejoin="round" stroke-linecap="butt"><path d="M1121.2 553.6 H1113.6 Q1111.7 553.6 1111.7 555.5 Q1111.7 557.4 1113.6 557.4 H1118.6 Q1120.5 557.4 1120.5 559.3 Q1120.5 561.2 1118.6 561.2 H1110.8"/><rect x="1125.5" y="553.6" width="9.7" height="7.600000000000023" rx="2.2"/><path d="M1140.1 562.25 V553.6 H1148 Q1150.2 553.6 1150.2 555.8000000000001 V562.25"/><path d="M1166.9 549.9 V561.2 H1157.8 Q1155.6 561.2 1155.6 559.0 V555.8000000000001 Q1155.6 553.6 1157.8 553.6 H1166.9"/><path d="M1171.4 553.6 H1179.7 Q1181.9 553.6 1181.9 555.8000000000001 V562.25 M1181.9 561.2 H1173.3 Q1171.4 561.2 1171.4 559.3 Q1171.4 557.4 1173.3 557.4 H1181.9"/></g></svg>
<svg class="a" style="left:1184px;top:559px" width="11" height="11" viewBox="0 0 11 11"><path d="M10 1 L10 10 L1 10 Z" fill="#9c9c9c"/></svg>
</div>
</div>
<div class="plug" style="top:629px">
<div class="w2">
<div class="tb"></div>
<div class="sg" style="left:-1.00px;width:402.50px"></div>
<div class="sg" style="left:402.00px;width:13.50px"></div>
<div class="sg" style="left:415.50px;width:132.50px"></div>
<div class="t tbt" style="left:381.75px;width:200px;text-align:center;top:2px;font-size:10.1px;color:#d2d2d2">Copy</div>
<div class="sg" style="left:549.00px;width:130.50px"></div>
<div class="t tbt" style="left:514.25px;width:200px;text-align:center;top:2px;font-size:10.1px;color:#8c8c8c">Paste</div>
<div class="sg" style="left:681.00px;width:130.50px"></div>
<div class="t tbt" style="left:646.25px;width:200px;text-align:center;top:2px;font-size:10.1px;color:#e4e4e4">Undo</div>
<div class="sg" style="left:812.50px;width:130.50px"></div>
<div class="t tbt" style="left:777.75px;width:200px;text-align:center;top:2px;font-size:10.1px;color:#8c8c8c">Redo</div>
<div class="sg" style="left:943.50px;width:22.00px"></div>
<div class="sg" style="left:966.50px;width:56.50px"></div>
<div class="t tbt" style="left:894.75px;width:200px;text-align:center;top:2px;font-size:10.1px;color:#a8a8a8">A</div>
<div class="sg" style="left:1024.00px;width:56.50px"></div>
<div class="t tbt" style="left:952.25px;width:200px;text-align:center;top:2px;font-size:10.1px;color:#a8a8a8">B</div>
<div class="sg" style="left:1081.50px;width:57.00px"></div>
<div class="t tbt" style="left:1010.00px;width:200px;text-align:center;top:2px;font-size:10.1px;color:#a8a8a8">C</div>
<div class="sg" style="left:1139.50px;width:57.50px"></div>
<div class="t tbt" style="left:1068.25px;width:200px;text-align:center;top:2px;font-size:10.1px;color:#a8a8a8">D</div>
<div class="t tbt" style="left:24.60px;text-align:left;top:2px;font-size:10.1px;color:#dcdcdc">Spartan Slow Ballistics</div>
<svg class="a" style="left:4px;top:6px" width="14" height="8" viewBox="0 0 14 8"><path d="M0.8 1.2 L12.6 1.2 L6.7 7.2 Z" fill="#e2e2e2"/></svg>
<svg class="a" style="left:404px;top:3px" width="10" height="15" viewBox="0 0 10 15"><path d="M5 1.2 L8.6 6.4 L1.4 6.4 Z M5 13.8 L8.6 8.6 L1.4 8.6 Z" fill="#c8c8c8"/></svg>
<svg class="a" style="left:0;top:0" width="1196" height="20" viewBox="0 0 1196 20"><path d="M949.2 5.2 Q946.4 8 947.5 10.3 Q948.5 12.1 951.4 12.1 H959.6" fill="none" stroke="#b2b2b2" stroke-width="1.3" stroke-linecap="round"/><path d="M958 9.2 L962.8 12.1 L958 14.8 Z" fill="#b2b2b2"/></svg>
<div class="bx " style="left:10.65px;top:30.65px;width:250.90px;height:21.70px"></div>
<div class="led" style="left:17px;top:38.9px;width:7.6px;height:5px;border-radius:2.5px"></div>
<div class="t ct" style="left:29.80px;text-align:left;top:33px;font-size:10.2px;">Probe 1</div>
<svg class="a" style="left:242px;top:35px" width="15" height="14" viewBox="0 0 15 14"><rect x="0.5" y="0.8" width="13.6" height="11.6" rx="1.6" fill="#c4c4c4"/><rect x="2.2" y="8.4" width="2.2" height="2.2" fill="#444"/><rect x="6.2" y="8.4" width="2.2" height="2.2" fill="#444"/><rect x="10.2" y="8.4" width="2.2" height="2.2" fill="#444"/></svg>
<div class="bx " style="left:267.65px;top:30.65px;width:78.90px;height:21.70px"></div>
<div class="led" style="left:273.8px;top:38.6px;width:6.4px;height:6.2px;border-radius:2.6px;background:#cbc43a"></div>
<div class="t ct" style="left:284.20px;text-align:left;top:33px;font-size:10.2px;">Loudness</div>
<div class="bx " style="left:1046.65px;top:30.65px;width:137.90px;height:21.70px"></div>
<div class="t ct" style="left:1054.40px;text-align:left;top:32px;font-size:10.6px;">Edit Patchbay</div>
<svg class="a" style="left:1162.4px;top:38.6px" width="14" height="9" viewBox="0 0 14 9"><path d="M1 1.4 L13 1.4 L7 7.8 Z" fill="#d4d4d4"/></svg>
<div class="bx " style="left:11.15px;top:59.65px;width:62.20px;height:21.30px"></div>
<svg class="a" style="left:15.3px;top:62px" width="56" height="16" viewBox="0 0 56 16"><rect x="1.4" y="10.1" width="1.5" height="4.5" fill="#cfc536"/><rect x="4.5" y="2.2" width="1.5" height="12.4" fill="#cfc536"/><rect x="8.3" y="7.6" width="1.5" height="7.0" fill="#cfc536"/><rect x="11.7" y="10.1" width="1.5" height="4.5" fill="#cfc536"/><rect x="15.2" y="2.2" width="1.5" height="12.4" fill="#cfc536"/><rect x="18.7" y="7.2" width="1.5" height="7.4" fill="#cfc536"/><rect x="32.8" y="10.1" width="1.9" height="4.5" fill="#b4b4b4"/><rect x="36.3" y="8.0" width="1.9" height="6.6" fill="#b4b4b4"/><rect x="39.7" y="2.2" width="1.9" height="12.4" fill="#b4b4b4"/><rect x="43.2" y="2.2" width="1.9" height="12.4" fill="#b4b4b4"/><rect x="46.8" y="6.6" width="1.9" height="8.0" fill="#b4b4b4"/><rect x="50.1" y="6.6" width="1.9" height="8.0" fill="#b4b4b4"/></svg>
<div class="bx " style="left:92.15px;top:59.65px;width:56.80px;height:21.30px"></div>
<div class="led" style="left:98.5px;top:67.2px;width:6.6px;height:6.2px;border-radius:2.4px;background:#d6cb3c"></div>
<div class="t ct" style="left:108.80px;text-align:left;top:62px;font-size:10.2px;">Range</div>
<div class="bx " style="left:167.15px;top:59.65px;width:94.40px;height:21.30px"></div>
<svg class="a" style="left:0;top:0" width="300" height="90" viewBox="0 0 300 90"><path d="M174.3 75.3 L178.4 69 L182.5 72.2 L186.5 64.9 L192.3 75.3" fill="none" stroke="#cecece" stroke-width="1.7" stroke-linejoin="round" stroke-linecap="round"/></svg>
<div class="t ct2" style="left:202.60px;text-align:left;top:62px;font-size:10.2px;color:#e2cf2e">RMS</div>
<div class="t ct2" style="left:236.60px;text-align:left;top:62px;font-size:10.2px;color:#c4c4c4;letter-spacing:0.9px">TrP</div>
<div class="bx " style="left:267.65px;top:59.65px;width:49.90px;height:21.30px"></div>
<div class="t ct2" style="left:177.40px;width:200px;text-align:center;top:62px;font-size:10.2px;color:#e8d52c">M</div>
<div class="t ct2" style="left:192.80px;width:200px;text-align:center;top:62px;font-size:10.2px;color:#e8d52c">S</div>
<div class="t ct2" style="left:207.60px;width:200px;text-align:center;top:62px;font-size:10.2px;color:#e8d52c">I</div>
<div class="bx " style="left:321.25px;top:59.65px;width:43.90px;height:21.30px"></div>
<svg class="a" style="left:329px;top:64px" width="32" height="13" viewBox="0 0 32 13"><path d="M2.2 1.7 L11.3 6.6 L2.2 11.6 Z" fill="#f0dc28" stroke="#f0dc28" stroke-width="0.5" stroke-linejoin="round"/><rect x="22.5" y="1.7" width="2.6" height="9.9" fill="#c4c4c4"/><rect x="26.9" y="1.7" width="2.7" height="9.9" fill="#c4c4c4"/></svg>
<div class="bx " style="left:368.65px;top:59.65px;width:49.30px;height:21.30px"></div>
<div class="t ct" style="left:293.30px;width:200px;text-align:center;top:61px;font-size:11.6px;color:#bdbdbd;-webkit-text-stroke:0.3px #bdbdbd">Clear</div>
<div class="bx " style="left:1109.15px;top:59.65px;width:75.40px;height:21.30px"></div>
<div class="t ct" style="left:1046.80px;width:200px;text-align:center;top:61px;font-size:11.6px;color:#bdbdbd;-webkit-text-stroke:0.3px #bdbdbd">Manual</div>
<div class="pan"></div>
<div class="rng"></div>
<svg class="a" style="left:15px;top:91px" width="40" height="18" viewBox="0 0 40 18"><path d="M3.4 0.8 L39.4 0.8 L31.8 6.4 L31.8 14.2 Q31.8 16.8 29.2 16.8 L3.4 16.8 Q0.8 16.8 0.8 14.2 L0.8 3.4 Q0.8 0.8 3.4 0.8 Z" fill="#c6c6c6"/></svg>
<div class="t tg" style="left:-68.60px;width:200px;text-align:center;top:90px;font-size:9px;">0.0</div>
<svg class="a" style="left:15px;top:431px" width="40" height="18" viewBox="0 0 40 18"><path d="M3.4 17.2 L38 17.2 L31.8 11.6 L31.8 3.8 Q31.8 1.2 29.2 1.2 L3.4 1.2 Q0.8 1.2 0.8 3.8 L0.8 14.6 Q0.8 17.2 3.4 17.2 Z" fill="#c6c6c6"/></svg>
<div class="t tg" style="left:-68.60px;width:200px;text-align:center;top:431px;font-size:9px;">-69.5</div>
<div class="ul" style="left:15.4px;width:48.6px"></div>
<div class="t lb" style="left:-60.60px;width:200px;text-align:center;top:513px;font-size:9.8px;">Range</div>
<div class="gl" style="top:93.80px;background:#272727"></div>
<div class="gl" style="top:119.40px"></div>
<div class="gl" style="top:145.00px"></div>
<div class="gl" style="top:170.60px"></div>
<div class="gl" style="top:196.20px"></div>
<div class="gl" style="top:221.80px"></div>
<div class="gl" style="top:247.40px"></div>
<div class="gl" style="top:273.00px"></div>
<div class="gl" style="top:298.60px"></div>
<div class="gl" style="top:324.20px"></div>
<div class="gl" style="top:349.80px"></div>
<div class="gl" style="top:375.70px"></div>
<div class="gl" style="top:401.50px"></div>
<div class="gl" style="top:426.80px"></div>
<div class="gl" style="top:439.40px"></div>
<div class="gl" style="top:451.80px"></div>
<div class="gl" style="top:463.90px"></div>
<div class="gl" style="top:476.10px"></div>
<div class="gl" style="top:488.30px"></div>
<div class="gl m" style="top:433.10px"></div>
<div class="gl m" style="top:445.60px"></div>
<div class="gl m" style="top:457.90px"></div>
<div class="gl m" style="top:470.00px"></div>
<div class="gl m" style="top:482.20px"></div>
<div class="gl m" style="top:493.50px"></div>
<div class="ax" style="left:104.6px"></div><div class="ax" style="left:1146.5px"></div>
<div class="tk" style="left:101.8px;top:93.80px"></div><div class="tk" style="left:1148.4px;top:93.80px"></div>
<div class="t axl" style="left:70.60px;width:30px;text-align:right;top:84px;font-size:9.1px;">0</div>
<div class="t axl" style="left:1152.50px;text-align:left;top:84px;font-size:9.1px;">0</div>
<div class="tk" style="left:101.8px;top:119.40px"></div><div class="tk" style="left:1148.4px;top:119.40px"></div>
<div class="t axl" style="left:70.60px;width:30px;text-align:right;top:110px;font-size:9.1px;">-3</div>
<div class="t axl" style="left:1152.50px;text-align:left;top:110px;font-size:9.1px;">-3</div>
<div class="tk" style="left:101.8px;top:145.00px"></div><div class="tk" style="left:1148.4px;top:145.00px"></div>
<div class="t axl" style="left:70.60px;width:30px;text-align:right;top:135px;font-size:9.1px;">-6</div>
<div class="t axl" style="left:1152.50px;text-align:left;top:135px;font-size:9.1px;">-6</div>
<div class="tk" style="left:101.8px;top:170.60px"></div><div class="tk" style="left:1148.4px;top:170.60px"></div>
<div class="t axl" style="left:70.60px;width:30px;text-align:right;top:161px;font-size:9.1px;">-9</div>
<div class="t axl" style="left:1152.50px;text-align:left;top:161px;font-size:9.1px;">-9</div>
<div class="tk" style="left:101.8px;top:196.20px"></div><div class="tk" style="left:1148.4px;top:196.20px"></div>
<div class="t axl" style="left:70.60px;width:30px;text-align:right;top:187px;font-size:9.1px;">-12</div>
<div class="t axl" style="left:1152.50px;text-align:left;top:187px;font-size:9.1px;">-12</div>
<div class="tk" style="left:101.8px;top:221.80px"></div><div class="tk" style="left:1148.4px;top:221.80px"></div>
<div class="t axl" style="left:70.60px;width:30px;text-align:right;top:212px;font-size:9.1px;">-15</div>
<div class="t axl" style="left:1152.50px;text-align:left;top:212px;font-size:9.1px;">-15</div>
<div class="tk" style="left:101.8px;top:247.40px"></div><div class="tk" style="left:1148.4px;top:247.40px"></div>
<div class="t axl" style="left:70.60px;width:30px;text-align:right;top:238px;font-size:9.1px;">-18</div>
<div class="t axl" style="left:1152.50px;text-align:left;top:238px;font-size:9.1px;">-18</div>
<div class="tk" style="left:101.8px;top:273.00px"></div><div class="tk" style="left:1148.4px;top:273.00px"></div>
<div class="t axl" style="left:70.60px;width:30px;text-align:right;top:263px;font-size:9.1px;">-21</div>
<div class="t axl" style="left:1152.50px;text-align:left;top:263px;font-size:9.1px;">-21</div>
<div class="tk" style="left:101.8px;top:298.60px"></div><div class="tk" style="left:1148.4px;top:298.60px"></div>
<div class="t axl" style="left:70.60px;width:30px;text-align:right;top:289px;font-size:9.1px;">-24</div>
<div class="t axl" style="left:1152.50px;text-align:left;top:289px;font-size:9.1px;">-24</div>
<div class="tk" style="left:101.8px;top:324.20px"></div><div class="tk" style="left:1148.4px;top:324.20px"></div>
<div class="t axl" style="left:70.60px;width:30px;text-align:right;top:315px;font-size:9.1px;">-27</div>
<div class="t axl" style="left:1152.50px;text-align:left;top:315px;font-size:9.1px;">-27</div>
<div class="tk" style="left:101.8px;top:349.80px"></div><div class="tk" style="left:1148.4px;top:349.80px"></div>
<div class="t axl" style="left:70.60px;width:30px;text-align:right;top:340px;font-size:9.1px;">-30</div>
<div class="t axl" style="left:1152.50px;text-align:left;top:340px;font-size:9.1px;">-30</div>
<div class="tk" style="left:101.8px;top:375.70px"></div><div class="tk" style="left:1148.4px;top:375.70px"></div>
<div class="t axl" style="left:70.60px;width:30px;text-align:right;top:366px;font-size:9.1px;">-33</div>
<div class="t axl" style="left:1152.50px;text-align:left;top:366px;font-size:9.1px;">-33</div>
<div class="tk" style="left:101.8px;top:401.50px"></div><div class="tk" style="left:1148.4px;top:401.50px"></div>
<div class="t axl" style="left:70.60px;width:30px;text-align:right;top:392px;font-size:9.1px;">-36</div>
<div class="t axl" style="left:1152.50px;text-align:left;top:392px;font-size:9.1px;">-36</div>
<div class="tk" style="left:101.8px;top:426.80px"></div><div class="tk" style="left:1148.4px;top:426.80px"></div>
<div class="t axl" style="left:70.60px;width:30px;text-align:right;top:417px;font-size:9.1px;">-39</div>
<div class="t axl" style="left:1152.50px;text-align:left;top:417px;font-size:9.1px;">-39</div>
<div class="tk" style="left:101.8px;top:439.40px"></div><div class="tk" style="left:1148.4px;top:439.40px"></div>
<div class="t axl" style="left:70.60px;width:30px;text-align:right;top:430px;font-size:9.1px;">-42</div>
<div class="t axl" style="left:1152.50px;text-align:left;top:430px;font-size:9.1px;">-42</div>
<div class="tk" style="left:101.8px;top:451.80px"></div><div class="tk" style="left:1148.4px;top:451.80px"></div>
<div class="t axl" style="left:70.60px;width:30px;text-align:right;top:442px;font-size:9.1px;">-48</div>
<div class="t axl" style="left:1152.50px;text-align:left;top:442px;font-size:9.1px;">-48</div>
<div class="tk" style="left:101.8px;top:463.90px"></div><div class="tk" style="left:1148.4px;top:463.90px"></div>
<div class="t axl" style="left:70.60px;width:30px;text-align:right;top:454px;font-size:9.1px;">-54</div>
<div class="t axl" style="left:1152.50px;text-align:left;top:454px;font-size:9.1px;">-54</div>
<div class="tk" style="left:101.8px;top:476.10px"></div><div class="tk" style="left:1148.4px;top:476.10px"></div>
<div class="t axl" style="left:70.60px;width:30px;text-align:right;top:467px;font-size:9.1px;">-60</div>
<div class="t axl" style="left:1152.50px;text-align:left;top:467px;font-size:9.1px;">-60</div>
<div class="tk" style="left:101.8px;top:488.30px"></div><div class="tk" style="left:1148.4px;top:488.30px"></div>
<div class="t axl" style="left:70.60px;width:30px;text-align:right;top:479px;font-size:9.1px;">-66</div>
<div class="t axl" style="left:1152.50px;text-align:left;top:479px;font-size:9.1px;">-66</div>
<div class="tk s" style="left:102.6px;top:433.10px"></div><div class="tk s" style="left:1148.4px;top:433.10px"></div>
<div class="tk s" style="left:102.6px;top:445.60px"></div><div class="tk s" style="left:1148.4px;top:445.60px"></div>
<div class="tk s" style="left:102.6px;top:457.90px"></div><div class="tk s" style="left:1148.4px;top:457.90px"></div>
<div class="tk s" style="left:102.6px;top:470.00px"></div><div class="tk s" style="left:1148.4px;top:470.00px"></div>
<div class="tk s" style="left:102.6px;top:482.20px"></div><div class="tk s" style="left:1148.4px;top:482.20px"></div>
<div class="tk s" style="left:102.6px;top:493.50px"></div><div class="tk s" style="left:1148.4px;top:493.50px"></div>
<div class="tk s" style="left:102.6px;top:496.30px"></div><div class="tk s" style="left:1148.4px;top:496.30px"></div>
</div>
<div class="b" style="left:113.00px;top:233.00px;width:15.20px;height:264.00px;background:linear-gradient(to bottom,rgb(192,168,36) 0.0%,rgb(186,156,32) 25.4%,rgb(178,138,28) 56.4%,rgb(156,136,28) 61.4%,rgb(122,134,30) 67.4%,rgb(80,130,30) 75.8%,rgb(38,114,27) 84.5%,rgb(25,100,25) 93.6%,rgb(22,92,24) 100.0%)"></div>
<div class="pk" style="left:113.00px;top:151.80px;width:15.20px;background:#c4be46"></div>
<div class="b" style="left:133.00px;top:284.80px;width:15.20px;height:212.20px;background:linear-gradient(to bottom,rgb(58,148,122) 0.0%,rgb(52,142,116) 7.2%,rgb(56,126,108) 30.7%,rgb(66,114,104) 54.3%,rgb(76,100,96) 73.1%,rgb(82,88,88) 87.3%,rgb(78,80,80) 100.0%)"></div>
<div class="pk" style="left:133.00px;top:204.60px;width:15.20px;background:#78a690"></div>
<div class="b" style="left:153.00px;top:334.80px;width:15.20px;height:162.20px;background:linear-gradient(to bottom,rgb(223,0,42) 0.0%,rgb(222,0,42) 30.3%,rgb(198,16,48) 43.9%,rgb(168,30,52) 59.9%,rgb(132,38,54) 78.4%,rgb(98,42,50) 100.0%)"></div>
<div class="pk" style="left:153.00px;top:254.80px;width:15.20px;background:#c8223c"></div>
<div class="b" style="left:173.25px;top:387.50px;width:15.20px;height:109.50px;background:linear-gradient(to bottom,rgb(170,44,151) 0.0%,rgb(152,42,142) 20.5%,rgb(124,42,128) 47.9%,rgb(92,40,110) 75.3%,rgb(72,38,96) 100.0%)"></div>
<div class="pk" style="left:173.25px;top:306.30px;width:15.20px;background:#98469e"></div>
<div class="b" style="left:194.40px;top:437.80px;width:15.20px;height:59.20px;background:linear-gradient(to bottom,rgb(42,79,167) 0.0%,rgb(42,78,164) 20.6%,rgb(38,66,142) 100.0%)"></div>
<div class="pk" style="left:194.40px;top:358.80px;width:15.20px;background:#3a62ba"></div>
<div class="b" style="left:214.50px;top:450.30px;width:15.20px;height:46.70px;background:linear-gradient(to bottom,rgb(26,128,26) 0.0%,rgb(26,126,26) 20.8%,rgb(22,110,24) 100.0%)"></div>
<div class="pk" style="left:214.50px;top:408.80px;width:15.20px;background:#288428"></div>
<div class="ul" style="left:112.50px;width:118.00px"></div>
<div class="t lb" style="left:71.30px;width:200px;text-align:center;top:503px;font-size:9.8px;">L</div>
<div class="b" style="left:242.00px;top:243.50px;width:15.20px;height:253.50px;background:linear-gradient(to bottom,rgb(191,166,36) 0.0%,rgb(186,156,32) 22.3%,rgb(178,138,28) 54.6%,rgb(156,136,28) 59.8%,rgb(122,134,30) 66.1%,rgb(80,130,30) 74.8%,rgb(38,114,27) 83.8%,rgb(25,100,25) 93.3%,rgb(22,92,24) 100.0%)"></div>
<div class="pk" style="left:242.00px;top:150.80px;width:15.20px;background:#c4be46"></div>
<div class="b" style="left:262.50px;top:295.30px;width:15.20px;height:201.70px;background:linear-gradient(to bottom,rgb(54,144,118) 0.0%,rgb(52,142,116) 2.3%,rgb(56,126,108) 27.1%,rgb(66,114,104) 51.9%,rgb(76,100,96) 71.7%,rgb(82,88,88) 86.6%,rgb(78,80,80) 100.0%)"></div>
<div class="pk" style="left:262.50px;top:203.30px;width:15.20px;background:#78a690"></div>
<div class="b" style="left:283.75px;top:345.30px;width:15.20px;height:151.70px;background:linear-gradient(to bottom,rgb(223,0,42) 0.0%,rgb(222,0,42) 25.5%,rgb(198,16,48) 40.0%,rgb(168,30,52) 57.2%,rgb(132,38,54) 76.9%,rgb(98,42,50) 100.0%)"></div>
<div class="pk" style="left:283.75px;top:253.80px;width:15.20px;background:#c8223c"></div>
<div class="b" style="left:304.00px;top:397.80px;width:15.20px;height:99.20px;background:linear-gradient(to bottom,rgb(162,43,147) 0.0%,rgb(152,42,142) 12.3%,rgb(124,42,128) 42.5%,rgb(92,40,110) 72.8%,rgb(72,38,96) 100.0%)"></div>
<div class="pk" style="left:304.00px;top:305.10px;width:15.20px;background:#98469e"></div>
<div class="b" style="left:324.00px;top:439.80px;width:15.20px;height:57.20px;background:linear-gradient(to bottom,rgb(42,79,166) 0.0%,rgb(42,78,164) 17.8%,rgb(38,66,142) 100.0%)"></div>
<div class="pk" style="left:324.00px;top:357.80px;width:15.20px;background:#3a62ba"></div>
<div class="b" style="left:344.00px;top:453.80px;width:15.20px;height:43.20px;background:linear-gradient(to bottom,rgb(26,127,26) 0.0%,rgb(26,126,26) 14.4%,rgb(22,110,24) 100.0%)"></div>
<div class="pk" style="left:344.00px;top:407.80px;width:15.20px;background:#288428"></div>
<div class="ul" style="left:241.50px;width:118.00px"></div>
<div class="t lb" style="left:200.30px;width:200px;text-align:center;top:503px;font-size:9.8px;">C</div>
<div class="b" style="left:373.00px;top:233.00px;width:15.20px;height:264.00px;background:linear-gradient(to bottom,rgb(192,168,36) 0.0%,rgb(186,156,32) 25.4%,rgb(178,138,28) 56.4%,rgb(156,136,28) 61.4%,rgb(122,134,30) 67.4%,rgb(80,130,30) 75.8%,rgb(38,114,27) 84.5%,rgb(25,100,25) 93.6%,rgb(22,92,24) 100.0%)"></div>
<div class="pk" style="left:373.00px;top:151.80px;width:15.20px;background:#c4be46"></div>
<div class="b" style="left:393.00px;top:284.80px;width:15.20px;height:212.20px;background:linear-gradient(to bottom,rgb(58,148,122) 0.0%,rgb(52,142,116) 7.2%,rgb(56,126,108) 30.7%,rgb(66,114,104) 54.3%,rgb(76,100,96) 73.1%,rgb(82,88,88) 87.3%,rgb(78,80,80) 100.0%)"></div>
<div class="pk" style="left:393.00px;top:204.60px;width:15.20px;background:#78a690"></div>
<div class="b" style="left:413.00px;top:334.80px;width:15.20px;height:162.20px;background:linear-gradient(to bottom,rgb(223,0,42) 0.0%,rgb(222,0,42) 30.3%,rgb(198,16,48) 43.9%,rgb(168,30,52) 59.9%,rgb(132,38,54) 78.4%,rgb(98,42,50) 100.0%)"></div>
<div class="pk" style="left:413.00px;top:254.80px;width:15.20px;background:#c8223c"></div>
<div class="b" style="left:433.25px;top:387.50px;width:15.20px;height:109.50px;background:linear-gradient(to bottom,rgb(170,44,151) 0.0%,rgb(152,42,142) 20.5%,rgb(124,42,128) 47.9%,rgb(92,40,110) 75.3%,rgb(72,38,96) 100.0%)"></div>
<div class="pk" style="left:433.25px;top:306.30px;width:15.20px;background:#98469e"></div>
<div class="b" style="left:454.40px;top:437.80px;width:15.20px;height:59.20px;background:linear-gradient(to bottom,rgb(42,79,167) 0.0%,rgb(42,78,164) 20.6%,rgb(38,66,142) 100.0%)"></div>
<div class="pk" style="left:454.40px;top:358.80px;width:15.20px;background:#3a62ba"></div>
<div class="b" style="left:474.50px;top:450.30px;width:15.20px;height:46.70px;background:linear-gradient(to bottom,rgb(26,128,26) 0.0%,rgb(26,126,26) 20.8%,rgb(22,110,24) 100.0%)"></div>
<div class="pk" style="left:474.50px;top:408.80px;width:15.20px;background:#288428"></div>
<div class="ul" style="left:372.50px;width:118.00px"></div>
<div class="t lb" style="left:331.30px;width:200px;text-align:center;top:503px;font-size:9.8px;">R</div>
<div class="b" style="left:502.00px;top:243.50px;width:15.20px;height:253.50px;background:linear-gradient(to bottom,rgb(191,166,36) 0.0%,rgb(186,156,32) 22.3%,rgb(178,138,28) 54.6%,rgb(156,136,28) 59.8%,rgb(122,134,30) 66.1%,rgb(80,130,30) 74.8%,rgb(38,114,27) 83.8%,rgb(25,100,25) 93.3%,rgb(22,92,24) 100.0%)"></div>
<div class="pk" style="left:502.00px;top:150.80px;width:15.20px;background:#c4be46"></div>
<div class="b" style="left:522.50px;top:295.30px;width:15.20px;height:201.70px;background:linear-gradient(to bottom,rgb(54,144,118) 0.0%,rgb(52,142,116) 2.3%,rgb(56,126,108) 27.1%,rgb(66,114,104) 51.9%,rgb(76,100,96) 71.7%,rgb(82,88,88) 86.6%,rgb(78,80,80) 100.0%)"></div>
<div class="pk" style="left:522.50px;top:203.30px;width:15.20px;background:#78a690"></div>
<div class="b" style="left:543.75px;top:345.30px;width:15.20px;height:151.70px;background:linear-gradient(to bottom,rgb(223,0,42) 0.0%,rgb(222,0,42) 25.5%,rgb(198,16,48) 40.0%,rgb(168,30,52) 57.2%,rgb(132,38,54) 76.9%,rgb(98,42,50) 100.0%)"></div>
<div class="pk" style="left:543.75px;top:253.80px;width:15.20px;background:#c8223c"></div>
<div class="b" style="left:564.00px;top:397.80px;width:15.20px;height:99.20px;background:linear-gradient(to bottom,rgb(162,43,147) 0.0%,rgb(152,42,142) 12.3%,rgb(124,42,128) 42.5%,rgb(92,40,110) 72.8%,rgb(72,38,96) 100.0%)"></div>
<div class="pk" style="left:564.00px;top:305.10px;width:15.20px;background:#98469e"></div>
<div class="b" style="left:584.00px;top:439.80px;width:15.20px;height:57.20px;background:linear-gradient(to bottom,rgb(42,79,166) 0.0%,rgb(42,78,164) 17.8%,rgb(38,66,142) 100.0%)"></div>
<div class="pk" style="left:584.00px;top:357.80px;width:15.20px;background:#3a62ba"></div>
<div class="b" style="left:604.00px;top:453.80px;width:15.20px;height:43.20px;background:linear-gradient(to bottom,rgb(26,127,26) 0.0%,rgb(26,126,26) 14.4%,rgb(22,110,24) 100.0%)"></div>
<div class="pk" style="left:604.00px;top:407.80px;width:15.20px;background:#288428"></div>
<div class="ul" style="left:501.50px;width:118.00px"></div>
<div class="t lb" style="left:460.30px;width:200px;text-align:center;top:503px;font-size:9.8px;">Ls</div>
<div class="b" style="left:632.50px;top:233.00px;width:15.20px;height:264.00px;background:linear-gradient(to bottom,rgb(192,168,36) 0.0%,rgb(186,156,32) 25.4%,rgb(178,138,28) 56.4%,rgb(156,136,28) 61.4%,rgb(122,134,30) 67.4%,rgb(80,130,30) 75.8%,rgb(38,114,27) 84.5%,rgb(25,100,25) 93.6%,rgb(22,92,24) 100.0%)"></div>
<div class="pk" style="left:632.50px;top:151.80px;width:15.20px;background:#c4be46"></div>
<div class="b" style="left:652.50px;top:284.80px;width:15.20px;height:212.20px;background:linear-gradient(to bottom,rgb(58,148,122) 0.0%,rgb(52,142,116) 7.2%,rgb(56,126,108) 30.7%,rgb(66,114,104) 54.3%,rgb(76,100,96) 73.1%,rgb(82,88,88) 87.3%,rgb(78,80,80) 100.0%)"></div>
<div class="pk" style="left:652.50px;top:204.60px;width:15.20px;background:#78a690"></div>
<div class="b" style="left:672.50px;top:334.80px;width:15.20px;height:162.20px;background:linear-gradient(to bottom,rgb(223,0,42) 0.0%,rgb(222,0,42) 30.3%,rgb(198,16,48) 43.9%,rgb(168,30,52) 59.9%,rgb(132,38,54) 78.4%,rgb(98,42,50) 100.0%)"></div>
<div class="pk" style="left:672.50px;top:254.80px;width:15.20px;background:#c8223c"></div>
<div class="b" style="left:692.75px;top:387.50px;width:15.20px;height:109.50px;background:linear-gradient(to bottom,rgb(170,44,151) 0.0%,rgb(152,42,142) 20.5%,rgb(124,42,128) 47.9%,rgb(92,40,110) 75.3%,rgb(72,38,96) 100.0%)"></div>
<div class="pk" style="left:692.75px;top:306.30px;width:15.20px;background:#98469e"></div>
<div class="b" style="left:713.90px;top:437.80px;width:15.20px;height:59.20px;background:linear-gradient(to bottom,rgb(42,79,167) 0.0%,rgb(42,78,164) 20.6%,rgb(38,66,142) 100.0%)"></div>
<div class="pk" style="left:713.90px;top:358.80px;width:15.20px;background:#3a62ba"></div>
<div class="b" style="left:734.00px;top:450.30px;width:15.20px;height:46.70px;background:linear-gradient(to bottom,rgb(26,128,26) 0.0%,rgb(26,126,26) 20.8%,rgb(22,110,24) 100.0%)"></div>
<div class="pk" style="left:734.00px;top:408.80px;width:15.20px;background:#288428"></div>
<div class="ul" style="left:632.00px;width:118.00px"></div>
<div class="t lb" style="left:590.80px;width:200px;text-align:center;top:503px;font-size:9.8px;">Rs</div>
<div class="b" style="left:762.00px;top:188.50px;width:15.20px;height:308.50px;background:linear-gradient(to bottom,rgb(195,176,39) 0.0%,rgb(186,156,32) 36.1%,rgb(178,138,28) 62.7%,rgb(156,136,28) 66.9%,rgb(122,134,30) 72.1%,rgb(80,130,30) 79.3%,rgb(38,114,27) 86.7%,rgb(25,100,25) 94.5%,rgb(22,92,24) 100.0%)"></div>
<div class="b" style="left:782.00px;top:242.80px;width:15.20px;height:254.20px;background:linear-gradient(to bottom,rgb(86,159,134) 0.0%,rgb(68,156,130) 7.6%,rgb(52,142,116) 22.5%,rgb(56,126,108) 42.2%,rgb(66,114,104) 61.8%,rgb(76,100,96) 77.6%,rgb(82,88,88) 89.4%,rgb(78,80,80) 100.0%)"></div>
<div class="b" style="left:803.25px;top:291.80px;width:15.20px;height:205.20px;background:linear-gradient(to bottom,rgb(223,0,42) 0.0%,rgb(222,0,42) 44.9%,rgb(198,16,48) 55.7%,rgb(168,30,52) 68.3%,rgb(132,38,54) 82.9%,rgb(98,42,50) 100.0%)"></div>
<div class="b" style="left:823.25px;top:344.00px;width:15.20px;height:153.00px;background:linear-gradient(to bottom,rgb(176,45,155) 0.0%,rgb(172,44,152) 26.8%,rgb(152,42,142) 43.1%,rgb(124,42,128) 62.7%,rgb(92,40,110) 82.4%,rgb(72,38,96) 100.0%)"></div>
<div class="b" style="left:843.25px;top:394.30px;width:15.20px;height:102.70px;background:linear-gradient(to bottom,rgb(44,84,176) 0.0%,rgb(44,84,176) 5.6%,rgb(42,78,164) 54.2%,rgb(38,66,142) 100.0%)"></div>
<div class="b" style="left:863.75px;top:439.80px;width:15.20px;height:57.20px;background:linear-gradient(to bottom,rgb(27,129,27) 0.0%,rgb(26,126,26) 35.3%,rgb(22,110,24) 100.0%)"></div>
<div class="ul" style="left:761.50px;width:118.00px"></div>
<div class="t lb" style="left:720.30px;width:200px;text-align:center;top:503px;font-size:10.1px;">Loudness M</div>
<div class="b" style="left:892.00px;top:207.00px;width:15.20px;height:290.00px;background:linear-gradient(to bottom,rgb(194,173,38) 0.0%,rgb(186,156,32) 32.1%,rgb(178,138,28) 60.3%,rgb(156,136,28) 64.8%,rgb(122,134,30) 70.3%,rgb(80,130,30) 77.9%,rgb(38,114,27) 85.9%,rgb(25,100,25) 94.1%,rgb(22,92,24) 100.0%)"></div>
<div class="b" style="left:912.50px;top:257.30px;width:15.20px;height:239.70px;background:linear-gradient(to bottom,rgb(72,157,131) 0.0%,rgb(68,156,130) 2.0%,rgb(52,142,116) 17.8%,rgb(56,126,108) 38.7%,rgb(66,114,104) 59.5%,rgb(76,100,96) 76.2%,rgb(82,88,88) 88.7%,rgb(78,80,80) 100.0%)"></div>
<div class="b" style="left:932.50px;top:309.80px;width:15.20px;height:187.20px;background:linear-gradient(to bottom,rgb(223,0,42) 0.0%,rgb(222,0,42) 39.6%,rgb(198,16,48) 51.4%,rgb(168,30,52) 65.3%,rgb(132,38,54) 81.3%,rgb(98,42,50) 100.0%)"></div>
<div class="b" style="left:952.50px;top:360.00px;width:15.20px;height:137.00px;background:linear-gradient(to bottom,rgb(174,45,154) 0.0%,rgb(172,44,152) 18.2%,rgb(152,42,142) 36.5%,rgb(124,42,128) 58.4%,rgb(92,40,110) 80.3%,rgb(72,38,96) 100.0%)"></div>
<div class="b" style="left:973.75px;top:411.30px;width:15.20px;height:85.70px;background:linear-gradient(to bottom,rgb(44,83,173) 0.0%,rgb(42,78,164) 45.2%,rgb(38,66,142) 100.0%)"></div>
<div class="b" style="left:993.75px;top:444.80px;width:15.20px;height:52.20px;background:linear-gradient(to bottom,rgb(27,129,27) 0.0%,rgb(26,126,26) 29.1%,rgb(22,110,24) 100.0%)"></div>
<div class="ul" style="left:891.50px;width:118.00px"></div>
<div class="t lb" style="left:850.30px;width:200px;text-align:center;top:503px;font-size:10.1px;">Loudness S</div>
<div class="b" style="left:1021.50px;top:208.30px;width:15.20px;height:288.70px;background:linear-gradient(to bottom,rgb(194,173,38) 0.0%,rgb(186,156,32) 31.8%,rgb(178,138,28) 60.2%,rgb(156,136,28) 64.7%,rgb(122,134,30) 70.2%,rgb(80,130,30) 77.8%,rgb(38,114,27) 85.8%,rgb(25,100,25) 94.1%,rgb(22,92,24) 100.0%)"></div>
<div class="b" style="left:1041.50px;top:262.00px;width:15.20px;height:235.00px;background:linear-gradient(to bottom,rgb(68,156,130) 0.0%,rgb(52,142,116) 16.2%,rgb(56,126,108) 37.4%,rgb(66,114,104) 58.7%,rgb(76,100,96) 75.7%,rgb(82,88,88) 88.5%,rgb(78,80,80) 100.0%)"></div>
<div class="b" style="left:1062.75px;top:313.50px;width:15.20px;height:183.50px;background:linear-gradient(to bottom,rgb(223,0,42) 0.0%,rgb(222,0,42) 38.4%,rgb(198,16,48) 50.4%,rgb(168,30,52) 64.6%,rgb(132,38,54) 80.9%,rgb(98,42,50) 100.0%)"></div>
<div class="b" style="left:1082.75px;top:364.80px;width:15.20px;height:132.20px;background:linear-gradient(to bottom,rgb(174,44,153) 0.0%,rgb(172,44,152) 15.3%,rgb(152,42,142) 34.2%,rgb(124,42,128) 56.9%,rgb(92,40,110) 79.6%,rgb(72,38,96) 100.0%)"></div>
<div class="b" style="left:1102.75px;top:417.50px;width:15.20px;height:79.50px;background:linear-gradient(to bottom,rgb(43,82,172) 0.0%,rgb(42,78,164) 40.9%,rgb(38,66,142) 100.0%)"></div>
<div class="b" style="left:1123.25px;top:446.00px;width:15.20px;height:51.00px;background:linear-gradient(to bottom,rgb(26,128,26) 0.0%,rgb(26,126,26) 27.5%,rgb(22,110,24) 100.0%)"></div>
<div class="ul" style="left:1021.00px;width:118.00px"></div>
<div class="t lb" style="left:979.80px;width:200px;text-align:center;top:503px;font-size:10.1px;">Loudness I</div>
<div class="t pn" style="left:525.00px;width:200px;text-align:center;top:522px;font-size:15.5px;">Probe 1, 2, 4, 5, 6</div>
<div class="w2">
<div class="str"></div>
<div class="sq"></div>
<div class="t sp" style="left:-54.80px;width:200px;text-align:center;top:547px;font-size:11px;">S</div>
<div class="t sp" style="left:-26.80px;width:200px;text-align:center;top:547px;font-size:11px;">P</div>
<div class="t sp" style="left:1.20px;width:200px;text-align:center;top:547px;font-size:11px;">A</div>
<div class="t sp" style="left:29.20px;width:200px;text-align:center;top:547px;font-size:11px;">T</div>
<div class="t sp" style="left:54.20px;width:200px;text-align:center;top:547px;font-size:11px;">I</div>
<div class="t sp" style="left:79.60px;width:200px;text-align:center;top:547px;font-size:11px;">A</div>
<div class="t sp" style="left:107.40px;width:200px;text-align:center;top:547px;font-size:11px;">L</div>
<svg class="a" style="left:0;top:0" width="1196" height="571" viewBox="0 0 1196 571"><g fill="none" stroke="#f4f4f4" stroke-width="2.7" stroke-linejoin="round" stroke-linecap="butt"><path d="M1121.2 553.6 H1113.6 Q1111.7 553.6 1111.7 555.5 Q1111.7 557.4 1113.6 557.4 H1118.6 Q1120.5 557.4 1120.5 559.3 Q1120.5 561.2 1118.6 561.2 H1110.8"/><rect x="1125.5" y="553.6" width="9.7" height="7.600000000000023" rx="2.2"/><path d="M1140.1 562.25 V553.6 H1148 Q1150.2 553.6 1150.2 555.8000000000001 V562.25"/><path d="M1166.9 549.9 V561.2 H1157.8 Q1155.6 561.2 1155.6 559.0 V555.8000000000001 Q1155.6 553.6 1157.8 553.6 H1166.9"/><path d="M1171.4 553.6 H1179.7 Q1181.9 553.6 1181.9 555.8000000000001 V562.25 M1181.9 561.2 H1173.3 Q1171.4 561.2 1171.4 559.3 Q1171.4 557.4 1173.3 557.4 H1181.9"/></g></svg>
<svg class="a" style="left:1184px;top:559px" width="11" height="11" viewBox="0 0 11 11"><path d="M10 1 L10 10 L1 10 Z" fill="#9c9c9c"/></svg>
</div>
</div>
</body></html>
